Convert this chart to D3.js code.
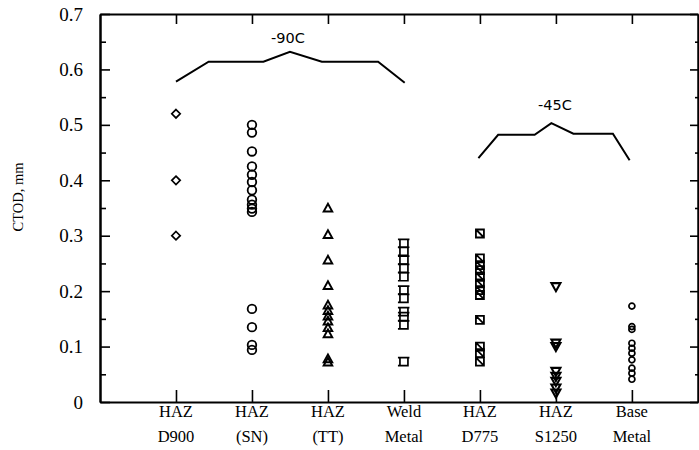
<!DOCTYPE html>
<html>
<head>
<meta charset="utf-8">
<script src="https://cdn.jsdelivr.net/npm/d3@7"></script>
<style>
  body { margin: 0; background: #fff; }
</style>
</head>
<body>
<svg id="chart" width="699" height="450"></svg>
<script>
// categories (two-line labels)
const catTop = ["HAZ", "HAZ", "HAZ", "Weld", "HAZ", "HAZ", "Base"];
const catBottom = ["D900", "(SN)", "(TT)", "Metal", "D775", "S1250", "Metal"];

// CTOD values, mm
const d900 = [0.52, 0.40, 0.30];
const sn = [0.50, 0.486, 0.452, 0.425, 0.41, 0.397, 0.382, 0.365, 0.356, 0.349, 0.343, 0.168, 0.135, 0.103, 0.094];
const tt = [0.35, 0.302, 0.256, 0.21, 0.175, 0.165, 0.155, 0.146, 0.134, 0.123, 0.078, 0.072];
const weld = [0.286, 0.272, 0.256, 0.241, 0.226, 0.202, 0.187, 0.163, 0.154, 0.139, 0.073];
const d775 = [0.304, 0.259, 0.247, 0.238, 0.226, 0.214, 0.202, 0.193, 0.148, 0.1, 0.088, 0.073];
const s1250 = [0.208, 0.106, 0.1, 0.055, 0.046, 0.037, 0.025, 0.016];
const base = [0.173, 0.136, 0.131, 0.106, 0.097, 0.088, 0.076, 0.061, 0.052, 0.041];

// temperature brackets [category position, CTOD]
const bracket90 = [[1, 0.578], [1.43, 0.614], [2.15, 0.614], [2.5, 0.632], [2.92, 0.614], [3.66, 0.614], [4.01, 0.576]];
const bracket45 = [[4.98, 0.44], [5.24, 0.482], [5.72, 0.482], [5.94, 0.503], [6.23, 0.484], [6.75, 0.484], [6.97, 0.436]];

const yTicks = [0, 0.1, 0.2, 0.3, 0.4, 0.5, 0.6, 0.7];
const yMinor = [0.05, 0.15, 0.25, 0.35, 0.45, 0.55, 0.65];

const serif = "'Liberation Serif', 'Times New Roman', serif";
const sans = "'DejaVu Sans', Verdana, sans-serif";

const svg = d3.select("#chart");
const x = d3.scaleLinear().domain([0, 7.87]).range([100, 698]);
const y = d3.scaleLinear().domain([0, 0.7]).range([402, 14]);

// marker shapes, drawn around a point
const shapes = {
  diamond: r => `M0,${-r}L${r},0L0,${r}L${-r},0Z`,
  circle: r => d3.symbol(d3.symbolCircle, Math.PI * r * r)(),
  triangle: r => `M0,${-r}L${r},${r * 0.8}L${-r},${r * 0.8}Z`,
  itriangle: r => `M0,${r}L${r},${-r * 0.8}L${-r},${-r * 0.8}Z`,
  square: r => `M${-r},${-r}H${r}V${r}H${-r}Z M${-r - 2},${-r}H${-r} M${-r - 2},${r}H${-r} M${r},${-r}h1.5`,
  xsquare: r => `M${-r},${-r}H${r}V${r}H${-r}Z M${-r},${-r}L${r},${r}`
};

const groups = [
  { vals: d900, shape: "diamond", r: 4.2, w: 1.7 },
  { vals: sn, shape: "circle", r: 4.3, w: 1.8 },
  { vals: tt, shape: "triangle", r: 4.3, w: 1.9 },
  { vals: weld, shape: "square", r: 4, w: 1.7 },
  { vals: d775, shape: "xsquare", r: 4, w: 1.8 },
  { vals: s1250, shape: "itriangle", r: 4.5, w: 2.1 },
  { vals: base, shape: "circle", r: 3, w: 1.7 }
];

// axes
const axisG = svg.append("g");
axisG.append("g").attr("transform", "translate(100,0)")
  .call(d3.axisLeft(y).tickValues(yTicks).tickSizeInner(-10).tickSizeOuter(0).tickPadding(17).tickFormat(d => d === 0 ? "0" : d3.format(".1f")(d)));
axisG.append("g").attr("transform", "translate(100,0)")
  .call(d3.axisLeft(y).tickValues(yMinor).tickSizeInner(-6).tickSizeOuter(0).tickFormat(""));
axisG.append("g").attr("transform", "translate(698,0)")
  .call(d3.axisRight(y).tickValues(yTicks).tickSizeInner(-8).tickSizeOuter(0).tickFormat(""));
axisG.append("g").attr("transform", "translate(698,0)")
  .call(d3.axisRight(y).tickValues(yMinor).tickSizeInner(-3).tickSizeOuter(0).tickFormat(""));
axisG.append("g").attr("transform", "translate(0,402)")
  .call(d3.axisTop(x).tickValues(d3.range(1, 8)).tickSizeInner(12).tickSizeOuter(0).tickFormat(""));
axisG.append("g").attr("transform", "translate(0,14)")
  .call(d3.axisBottom(x).tickValues(d3.range(1, 8)).tickSizeInner(10).tickSizeOuter(0).tickFormat(""));
axisG.selectAll(".domain").attr("stroke", "#000").attr("stroke-width", 2);
axisG.selectAll(".tick line").attr("stroke", "#000").attr("stroke-width", 1.6);
axisG.selectAll(".tick text").style("font-size", "19px").style("font-family", serif).attr("fill", "#000");

// category labels
const labels = svg.append("g").selectAll("text").data(catTop).join("text")
  .attr("text-anchor", "middle").style("font-size", "16.5px").style("font-family", serif);
labels.append("tspan").attr("x", (d, i) => x(i + 1)).attr("y", 417).text(d => d);
labels.append("tspan").attr("x", (d, i) => x(i + 1)).attr("y", 442).text((d, i) => catBottom[i]);

// y axis title
svg.append("text").attr("transform", "translate(23,197) rotate(-90)")
  .attr("text-anchor", "middle").style("font-size", "14.5px").style("font-family", serif).text("CTOD, mm");

// data markers
groups.forEach((g, i) => {
  svg.append("g").selectAll("path").data(g.vals).join("path")
    .attr("transform", d => `translate(${x(i + 1)},${y(d)})`)
    .attr("d", shapes[g.shape](g.r))
    .attr("fill", "none").attr("stroke", "#000").attr("stroke-width", g.w);
});

// temperature brackets
const line = d3.line().x(d => x(d[0])).y(d => y(d[1]));
[bracket90, bracket45].forEach(b => {
  svg.append("path").attr("d", line(b)).attr("fill", "none")
    .attr("stroke", "#000").attr("stroke-width", 2);
});
svg.append("text").attr("x", 288).attr("y", 43).attr("text-anchor", "middle")
  .style("font-family", sans).style("font-size", "14.5px").text("-90C");
svg.append("text").attr("x", 555).attr("y", 110).attr("text-anchor", "middle")
  .style("font-family", sans).style("font-size", "14.5px").text("-45C");
</script>
</body>
</html>
